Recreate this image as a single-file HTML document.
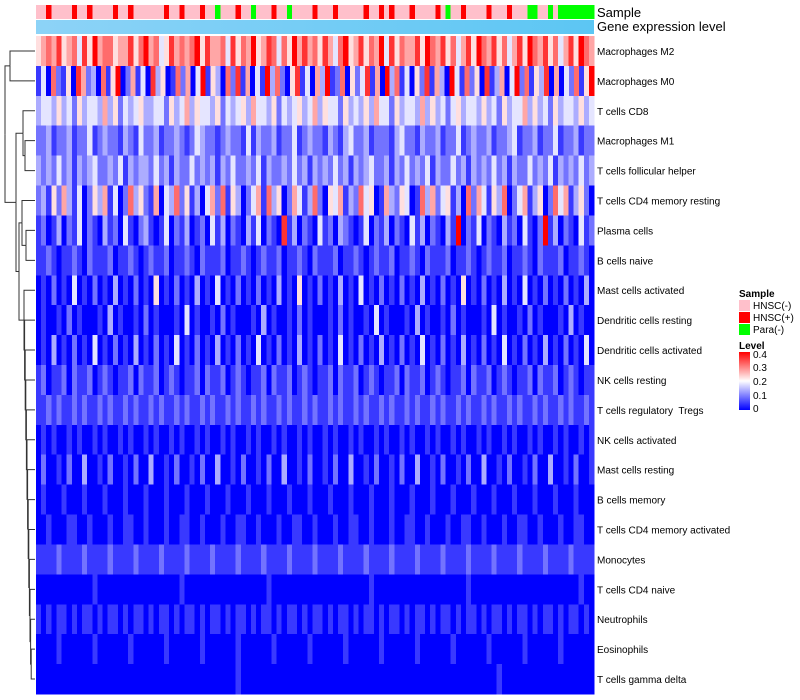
<!DOCTYPE html>
<html><head><meta charset="utf-8"><style>
body{margin:0;background:#fff;}
svg{display:block;font-family:"Liberation Sans",sans-serif;}
#rowlabels text{white-space:pre;}
</style></head><body>
<svg id="chart" width="800" height="700" shape-rendering="crispEdges">
<defs><linearGradient id="gexp" x1="0" x2="1"><stop offset="0" stop-color="#8dd3f7"/><stop offset="1" stop-color="#5cc6f3"/></linearGradient>
<linearGradient id="lvl" x1="0" y1="1" x2="0" y2="0"><stop offset="0" stop-color="#0000ff"/><stop offset="0.5" stop-color="#ffffff"/><stop offset="1" stop-color="#ff0000"/></linearGradient></defs>
<g id="sample-bar"></g>
<rect x="36" y="20" width="558" height="14" fill="url(#gexp)"/>
<text x="597" y="17" font-size="13">Sample</text>
<text x="597" y="31" font-size="13">Gene expression level</text>
<g id="cells"></g>
<g id="rowlabels" font-size="10" xml:space="preserve"></g>
<g id="dendro" stroke="#333" stroke-width="1" fill="none" shape-rendering="auto"></g>
<g font-size="10">
<text x="739" y="297" font-weight="bold">Sample</text>
<rect x="739" y="300" width="11" height="11" fill="#ffc0cb"/>
<text x="753" y="309">HNSC(-)</text>
<rect x="739" y="312" width="11" height="11" fill="#ff0000"/>
<text x="753" y="321">HNSC(+)</text>
<rect x="739" y="324" width="11" height="11" fill="#00ff00"/>
<text x="753" y="333">Para(-)</text>
<text x="739" y="349" font-weight="bold">Level</text>
<rect x="739" y="352" width="11" height="58" fill="url(#lvl)"/>
<text x="753" y="358">0.4</text>
<text x="753" y="371">0.3</text>
<text x="753" y="385">0.2</text>
<text x="753" y="399">0.1</text>
<text x="753" y="412">0</text>
</g>
</svg>
<script>
const rowNames=["Macrophages M2","Macrophages M0","T cells CD8","Macrophages M1","T cells follicular helper","T cells CD4 memory resting","Plasma cells","B cells naive","Mast cells activated","Dendritic cells resting","Dendritic cells activated","NK cells resting","T cells regulatory  Tregs","NK cells activated","Mast cells resting","B cells memory","T cells CD4 memory activated","Monocytes","T cells CD4 naive","Neutrophils","Eosinophils","T cells gamma delta"];
const rowValues=[
"5676856748596775668579674586767958667485769568747596867586479568576948576685976857468597685746859768574685976",
"1407215086230715902614083501726049153072816041937205814063912705248160937140528163094172508136049271538060427159",
"3443534253443635243453344253463544352434536443524345346354425343536442534436353424534435342534463534253443534",
"2231223122412322132142231223212432212322141322312241232213213422312221342213223122412322312234122312241223122",
"3232423132342232413233242313224232313242232413223242313232423132342231324232413224231323242313224232413232423",
"2315263140253614027352160437251304627153024617350264137205461327450163254017362451307264153702461350274613520",
"1201302140210312041023101402130120413021031402108130210412032101402130210413021031902140210312041029130210412",
"1121011210211120112101211201121021112011210121120112102111201121012112011210211120112101211201121021112011210",
"0102010401020103010201050102010301040102010201030105010201030104010201020103010201050102010301040102010201030",
"0100102010001030100102010001040100102010001030100102010001020100104010001030100102010001040100102010001030100",
"0103010201040102010301020104010201030102010401020103010201040102010301020104010201030102010401020103010201040",
"1201120211201210112021120121011202112012101120211201210112021120121011202112012101120211201210112021120121011",
"1121211212112121121211212112121121211212112121121211212112121121211212112121121211212112121121211212112121121",
"0101001010010100101001010010100101001010010100101001010010100101001010010100101001010010100101001010010100101",
"0200102003001020010200300102001020030010200102003001020010200300102001020030010200102003001020010200300102001",
"0100010001000100010001000100010001000100010001000100010001000100010001000100010001000100010001000100010001000",
"0010001100100010011001000100110010001001100100010011001000100110010001001100100010011001000100110010001001100",
"1111211112111121111211112111121111211112111121111211112111121111211112111121111211112111121111211112111121111",
"0000000000010000000000000000100000000000000001000000000000000000010000000000000000001000000000000000000000100",
"1010110101101011010110101101011010110101101011010110101101011010110101101011010110101101011010110101101011010",
"0000100000010000001000000100000010000001000000100000010000001000000100000010000001000000100000010000001000000",
"0000000000000000000000000000000000000001000000000000000000000000000000000000000000000000001000000000000000000"];
const sampleGroups="0010000100100001001000000100100010020001002000100200001000100000100101000100001020010000100010002200202222222";
const sampleColors=["#ffc0cb","#ff0000","#00ff00"];
const NS="http://www.w3.org/2000/svg";
const X0=36,X1=594,Y0=36,Y1=694;
const rowH=(Y1-Y0)/rowNames.length;
function level(d){return (+d)*0.045;}
function color(v){v=Math.max(0,Math.min(0.4,v));
 if(v<0.2){const t=v/0.2;return `rgb(${Math.round(255*t)},${Math.round(255*t)},255)`;}
 const t=(v-0.2)/0.2;return `rgb(255,${Math.round(255*(1-t))},${Math.round(255*(1-t))})`;}
const cells=document.getElementById('cells');
rowValues.forEach((s,r)=>{const n=s.length,w=(X1-X0)/n;
 for(let i=0;i<n;i++){const e=document.createElementNS(NS,'rect');
  e.setAttribute('x',X0+i*w);e.setAttribute('y',Y0+r*rowH);
  e.setAttribute('width',w+0.5);e.setAttribute('height',rowH+0.5);
  e.setAttribute('fill',color(level(s[i])));
  
  
  cells.appendChild(e);}
 const t=document.createElementNS(NS,'text');
 t.setAttribute('x',597);t.setAttribute('y',Y0+r*rowH+rowH/2+4);t.textContent=rowNames[r];
 
 
 document.getElementById('rowlabels').appendChild(t);});
const sb=document.getElementById('sample-bar');
{const n=sampleGroups.length,w=(X1-X0)/n;
 for(let i=0;i<n;i++){const e=document.createElementNS(NS,'rect');
  e.setAttribute('x',X0+i*w);e.setAttribute('y',5);e.setAttribute('width',w+0.5);e.setAttribute('height',14);
  e.setAttribute('fill',sampleColors[+sampleGroups[i]]);
  
  
  sb.appendChild(e);}}
const yc=i=>Y0+i*rowH+rowH/2;
function node(x,a,b){return {x,y:(a.y+b.y)/2,ch:[a,b]};}
const leaf=i=>({x:35,y:yc(i)});
const n01=node(10,leaf(0),leaf(1));
const n34=node(25,leaf(3),leaf(4));
const n234=node(23,leaf(2),n34);
const n67=node(26,leaf(6),leaf(7));
const n567=node(22,leaf(5),n67);
let chain=leaf(21);
for(let i=20;i>=8;i--){chain=node(24+(i-8)*0.6,leaf(i),chain);}
const nrest=node(19,n567,chain);
const n2r=node(16,n234,nrest);
const root=node(5,n01,n2r);
const dg=document.getElementById('dendro');
function draw(n){if(!n.ch)return;
 n.ch.forEach(c=>{const p=document.createElementNS(NS,'path');
  p.setAttribute('d',`M${n.x},${n.y}V${c.y}H${c.x}`);
  
  
  dg.appendChild(p);draw(c);});}
draw(root);
</script>
</body></html>
